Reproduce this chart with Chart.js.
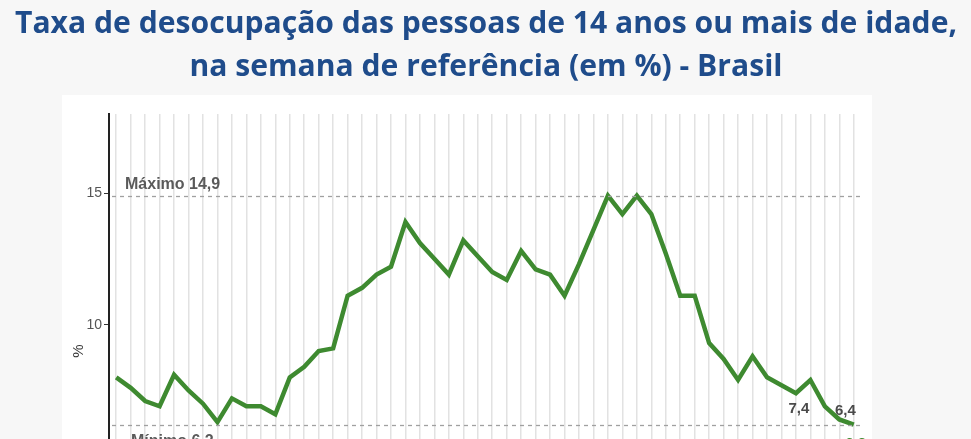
<!DOCTYPE html>
<html>
<head>
<meta charset="utf-8">
<script src="https://cdn.jsdelivr.net/npm/chart.js@4.4.1/dist/chart.umd.min.js"></script>
<style>
  html,body{margin:0;padding:0;background:#f7f7f7;overflow:hidden;width:971px;height:439px;}
  #panel{position:absolute;left:62px;top:95px;width:810px;height:560px;background:#ffffff;}
  #wrap{position:absolute;left:0;top:0;width:971px;height:620px;}
</style>
</head>
<body>
<div id="panel"></div>
<div id="wrap"><canvas id="c" width="971" height="620"></canvas></div>
<script>
const titleLines = ["Taxa de desocupação das pessoas de 14 anos ou mais de idade,", "na semana de referência (em %) - Brasil"];
const categories = [];
const years = [2012,2013,2014,2015,2016,2017,2018,2019,2020,2021,2022,2023,2024];
years.forEach(y => { ["1º tri","2º tri","3º tri","4º tri"].forEach(q => categories.push(q + " " + y)); });
const rate = [8.0,7.6,7.1,6.9, 8.1,7.5,7.0,6.3, 7.2,6.9,6.9,6.6, 8.0,8.4,9.0,9.1,
              11.1,11.4,11.9,12.2, 13.9,13.1,12.5,11.9, 13.2,12.6,12.0,11.7, 12.8,12.1,11.9,11.1,
              12.3,13.6,14.9,14.2, 14.9,14.2,12.7,11.1, 11.1,9.3,8.7,7.9, 8.8,8.0,7.7,7.4,
              7.9,6.9,6.4,6.2];
const yTicks = [0,5,10,15];
const maxValue = 14.9, minValue = 6.2;
const refLabels = ["Máximo 14,9", "Mínimo 6,2"];
const pointLabels = [{i:47, text:"7,4"}, {i:50, text:"6,4"}, {i:51, text:"6,2"}];

const GREEN = "#3e8a30";

const titlePlugin = {
  id: 'twoLineTitle',
  afterDraw(chart) {
    const ctx = chart.ctx;
    ctx.save();
    ctx.fillStyle = "#1f4c8b";
    ctx.font = "bold 30px 'Open Sans'";
    ctx.textAlign = "center";
    ctx.textBaseline = "alphabetic";
    const w1 = ctx.measureText(titleLines[0]).width;
    const sx = 942 / w1;
    [[titleLines[0], 33], [titleLines[1], 76]].forEach(([t, y]) => {
      ctx.save();
      ctx.translate(486, y);
      ctx.scale(sx, 1);
      ctx.fillText(t, 0, 0);
      ctx.restore();
    });
    ctx.restore();
  }
};

const refPlugin = {
  id: 'refLines',
  afterDatasetsDraw(chart) {
    const ctx = chart.ctx, ys = chart.scales.y, a = chart.chartArea;
    ctx.save();
    ctx.strokeStyle = "#a0a0a0";
    ctx.lineWidth = 1.3;
    ctx.setLineDash([4, 4]);
    [maxValue, minValue].forEach(v => {
      const y = Math.round(ys.getPixelForValue(v)) + 0.5;
      ctx.beginPath(); ctx.moveTo(a.left + 3, y); ctx.lineTo(a.right, y); ctx.stroke();
    });
    ctx.setLineDash([]);
    ctx.fillStyle = "#5a5a5a";
    ctx.font = "bold 16px 'Liberation Sans', Arial, sans-serif";
    ctx.textAlign = "left";
    ctx.fillText(refLabels[0], a.left + 16, ys.getPixelForValue(maxValue) - 7);
    ctx.fillText(refLabels[1], a.left + 22, ys.getPixelForValue(minValue) + 21);
    // point labels
    const meta = chart.getDatasetMeta(0);
    ctx.textAlign = "center";
    ctx.font = "bold 15px 'Liberation Sans', Arial, sans-serif";
    pointLabels.forEach(p => {
      const pt = meta.data[p.i];
      if (p.i === rate.length - 1) {
        ctx.fillStyle = GREEN;
        ctx.fillText(p.text, pt.x + 2, pt.y + 23);
      } else if (p.text === "7,4") {
        ctx.fillStyle = "#4a4a4a";
        ctx.fillText(p.text, pt.x + 3, pt.y + 20);
      } else {
        ctx.fillStyle = "#4a4a4a";
        ctx.fillText(p.text, pt.x + 6, pt.y - 4);
      }
    });
    ctx.restore();
  }
};

new Chart(document.getElementById('c'), {
  type: 'line',
  data: {
    labels: categories,
    datasets: [{
      data: rate,
      borderColor: GREEN,
      borderWidth: 4.5,
      pointRadius: 0,
      tension: 0,
      fill: false,
      borderJoinStyle: 'miter'
    }]
  },
  options: {
    responsive: false,
    animation: false,
    devicePixelRatio: 1,
    layout: { padding: { left: 62, right: 110, top: 114, bottom: 32 } },
    plugins: { legend: { display: false }, tooltip: { enabled: false }, title: { display: false } },
    scales: {
      x: {
        type: 'category',
        offset: true,
        grid: { display: true, color: "#e2e2e2", lineWidth: 1.5, drawTicks: false, offset: false },
        border: { display: false },
        ticks: { display: false }
      },
      y: {
        min: 0, max: 18,
        afterFit(s) { s.width = 47; },
        afterBuildTicks(s) { s.ticks = yTicks.map(v => ({ value: v })); },
        grid: { drawOnChartArea: false, drawTicks: true, tickLength: 5, color: "#333", lineWidth: 1 },
        border: { display: true, color: "#222", width: 2 },
        ticks: { color: "#555", font: { size: 14, family: "'Liberation Sans'" }, padding: 2 },
        title: { display: true, text: "%", color: "#333", font: { size: 15, family: "'Liberation Sans'" }, padding: { top: 8, bottom: 0 } }
      }
    }
  },
  plugins: [titlePlugin, refPlugin]
});
</script>
</body>
</html>
